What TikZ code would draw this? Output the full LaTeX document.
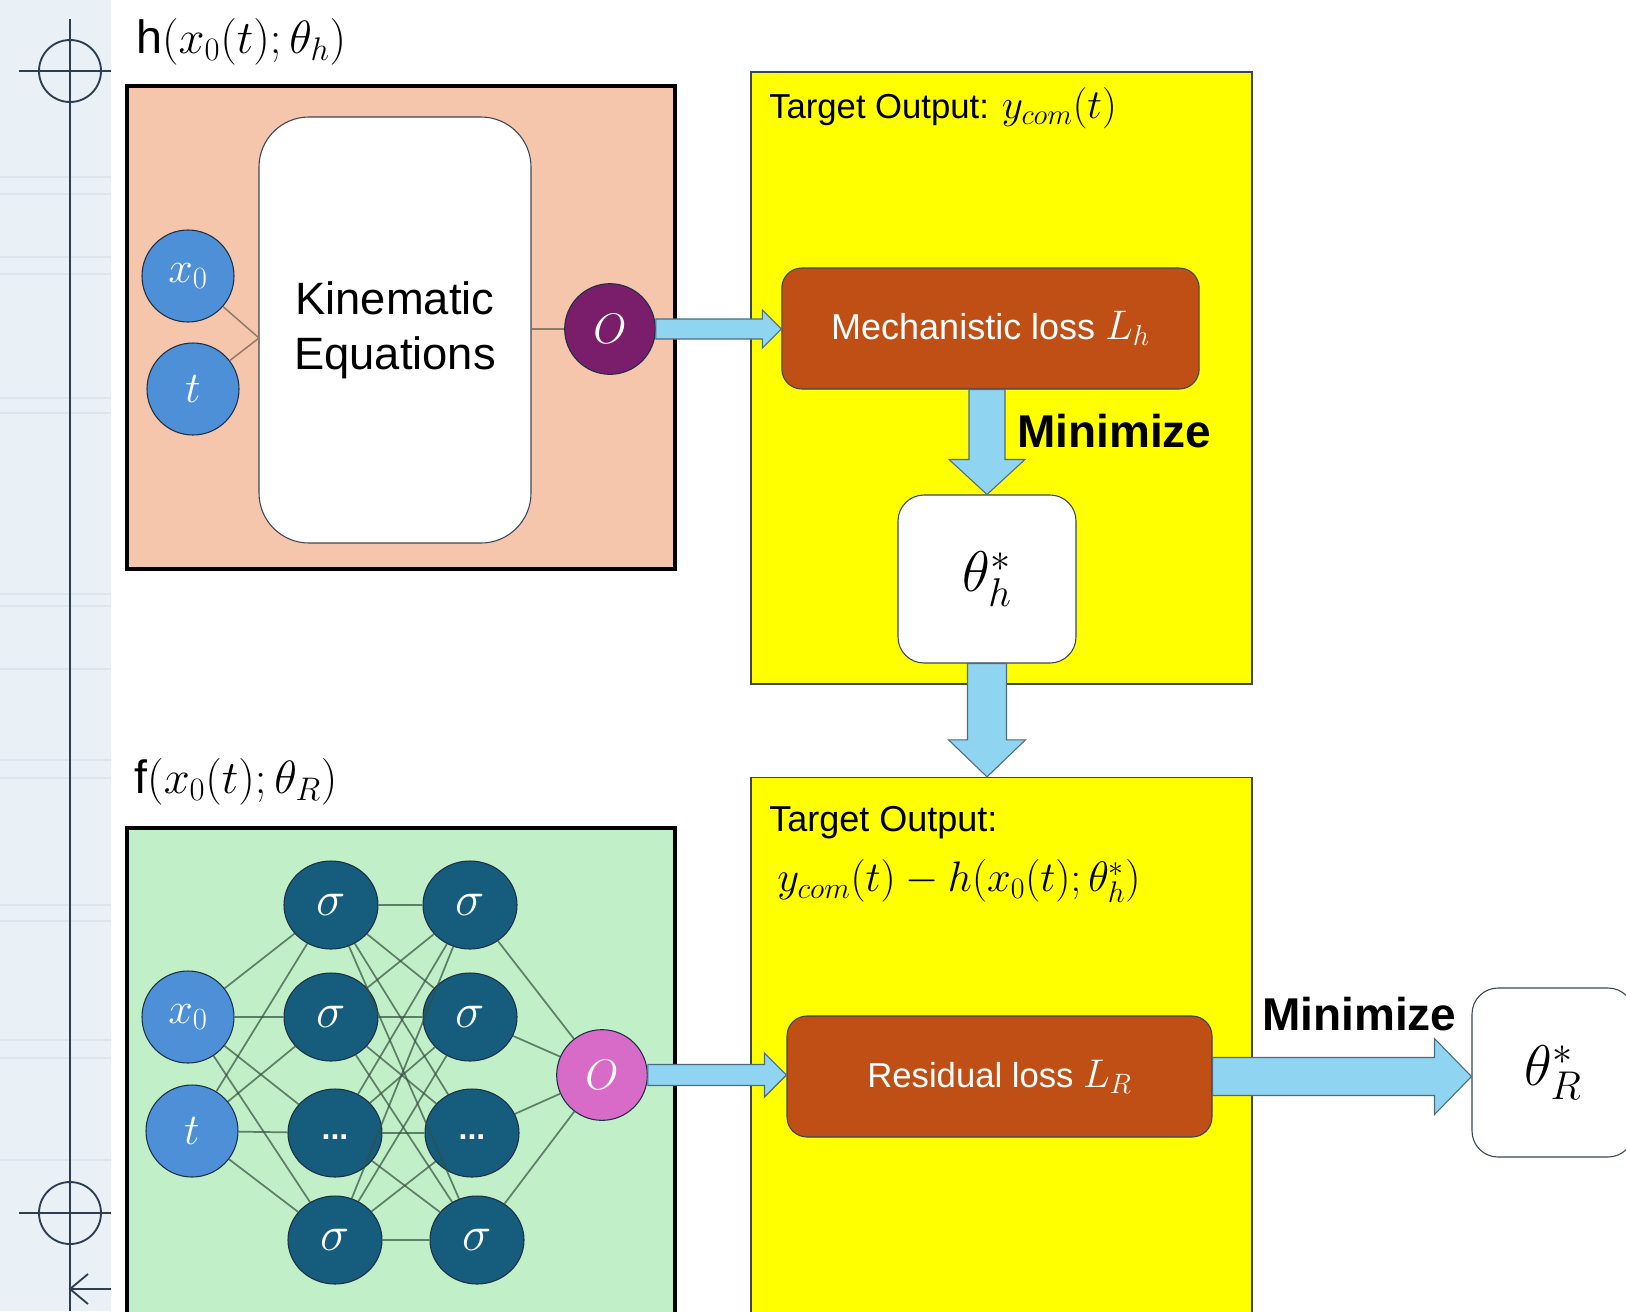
\RequirePackage{fix-cm}
\documentclass[tikz,border=0pt]{standalone}
\usepackage{fontspec}
\setmainfont{Liberation Sans}
\usetikzlibrary{calc,shapes.geometric}

\definecolor{stripbg}{HTML}{E9F0F6}
\definecolor{stripline}{HTML}{DCE5EE}
\definecolor{guide}{HTML}{2E3E52}
\definecolor{peach}{HTML}{F5C6AB}
\definecolor{mint}{HTML}{C1F0C8}
\definecolor{hilite}{HTML}{FFFF00}
\definecolor{lossfill}{HTML}{C04F15}
\definecolor{arrowfill}{HTML}{8FD4F1}
\definecolor{arrowedge}{HTML}{4D6B80}
\definecolor{inputblue}{HTML}{4E90D7}
\definecolor{hiddenblue}{HTML}{165C7D}
\definecolor{outpurple}{HTML}{7A1E6C}
\definecolor{outpink}{HTML}{D86BC8}
\definecolor{nodeedge}{HTML}{1B2F45}
\definecolor{wire}{HTML}{34503F}
\definecolor{kinwire}{HTML}{8C7A6B}
\definecolor{boxedge}{HTML}{3A4656}

\newcommand\fsz[2]{\fontsize{#1}{#2}\selectfont}
% fat block arrows: #1 start, #2 tip, #3 half shaft, #4 half head, #5 head length (px)
\newcommand\harrow[5]{%
  \draw[fatarrow] ($(#1)+(0,-#3)$) -- ($(#2)+(-#5,-#3)$) -- ($(#2)+(-#5,-#4)$) -- (#2)
    -- ($(#2)+(-#5,#4)$) -- ($(#2)+(-#5,#3)$) -- ($(#1)+(0,#3)$) -- cycle;}
\newcommand\varrow[5]{%
  \draw[fatarrow] ($(#1)+(-#3,0)$) -- ($(#2)+(-#3,-#5)$) -- ($(#2)+(-#4,-#5)$) -- (#2)
    -- ($(#2)+(#4,-#5)$) -- ($(#2)+(#3,-#5)$) -- ($(#1)+(#3,0)$) -- cycle;}

\begin{document}
\begin{tikzpicture}[x=0.75pt,y=-0.75pt,
  fatarrow/.style={fill=arrowfill,draw=arrowedge,line width=0.8pt,line join=miter},
  inputnode/.style={circle,fill=inputblue,draw=nodeedge,line width=0.8pt,inner sep=0pt,
    minimum size=69pt,text=white,font=\fsz{33}{36}},
  hiddennode/.style={ellipse,fill=hiddenblue,draw=nodeedge,line width=0.8pt,inner sep=0pt,
    minimum width=70.5pt,minimum height=66pt,text=white,font=\fsz{37}{40}},
  outnode/.style={circle,draw=nodeedge,line width=0.8pt,inner sep=0pt,
    minimum size=68pt,text=white,font=\fsz{32}{36}},
  lossbox/.style={rectangle,rounded corners=15pt,fill=lossfill,draw=boxedge,line width=0.8pt,
    minimum width=313pt,minimum height=90.75pt,text=white,font=\fsz{27}{30}},
  parambox/.style={rectangle,rounded corners=19.5pt,fill=white,draw=boxedge,line width=0.8pt,
    minimum height=126pt,font=\fsz{43}{46}},
  stagebox/.style={rectangle,fill=hilite,draw=boxedge,line width=1pt,inner sep=0pt},
  wirestyle/.style={draw=wire,draw opacity=0.7,line width=1.3pt},
  kinwirestyle/.style={draw=kinwire,line width=1.1pt},
  caption/.style={anchor=west,inner sep=0pt,font=\fsz{26}{30}},
  mintext/.style={anchor=west,inner sep=0pt,font=\fsz{34.5}{38}\bfseries},
  heading/.style={anchor=west,inner sep=0pt,font=\fsz{35}{38}}]

\useasboundingbox (0,0) rectangle (1626,1311);
\clip (0,0) rectangle (1626,1311);
\fill[white] (0,0) rectangle (1626,1311);

% ruler strip on the left edge
\fill[stripbg] (0,0) rectangle (111,1311);
\foreach \yy in {177,194,257,274,398,413,594,606,669,760,778,905,921,1040,1058,1160}
  \draw[stripline,line width=0.8pt] (0,\yy) -- (111,\yy);
\draw[guide,line width=1.6pt] (70,19) -- (70,1311);
\draw[guide,line width=1.4pt] (70,71) circle (31);
\draw[guide,line width=1.4pt] (19,71) -- (111,71);
\draw[guide,line width=1.4pt] (70,1213) circle (31);
\draw[guide,line width=1.4pt] (19,1213) -- (111,1213);
\draw[guide,line width=1.4pt] (111,1289) -- (70,1289);
\draw[guide,line width=1.4pt] (88,1274) -- (70,1289) -- (88,1304);

% ---------------- mechanistic model h ----------------
\node[heading] (htitle) at (136,42) {h$(x_0(t);\theta_h)$};
\draw[fill=peach,draw=black,line width=3pt] (126.5,86) rectangle (675,569);
\node[rectangle,rounded corners=37.5pt,fill=white,draw=boxedge,line width=0.8pt,
      minimum width=204pt,minimum height=319.5pt,align=center,
      font=\fsz{34}{41}] (kin) at (395,330) {Kinematic\\Equations};
\node[inputnode] (hx) at (188,276) {$x_0$};
\node[inputnode] (ht) at (193,389) {$t$};
\node[outnode,fill=outpurple] (ho) at (610,329) {$O$};
\coordinate (kjoin) at (259,338);
\draw[kinwirestyle] (hx) -- (kjoin);
\draw[kinwirestyle] (ht) -- (kjoin);
\draw[kinwirestyle] (kin.east |- ho.west) -- (ho.west);

% ---------------- stage 1 target ----------------
\node[stagebox,minimum width=375.75pt,minimum height=459pt] (stageA) at (1001.5,378) {};
\node[caption] (tgtA) at (769,108) {Target Output: {\fsz{31}{34}$y_{com}(t)$}};
\node[lossbox] (mech) at (990.5,328.5) {Mechanistic loss {\fsz{31}{34}$L_h$}};
\node[parambox,minimum width=133.5pt] (thh) at (987,579) {$\theta_h^*$};
\node[mintext] (minA) at (1017,431) {Minimize};

\harrow{ho.east}{mech.west |- ho.east}{10}{19}{19}
\varrow{thh.north |- mech.south}{thh.north}{18}{38}{35}

% ---------------- residual model f ----------------
\node[heading] (ftitle) at (134,782) {f$(x_0(t);\theta_R)$};
\draw[fill=mint,draw=black,line width=3pt] (126.5,827.5) rectangle (675,1330);
\node[inputnode] (fx) at (188,1017) {$x_0$};
\node[inputnode] (ft) at (192,1131) {$t$};
\node[hiddennode] (a1) at (331,905) {$\sigma$};
\node[hiddennode] (a2) at (331,1017) {$\sigma$};
\node[hiddennode] (a3) at (335,1133) {\raisebox{-10pt}{\fsz{24}{26}\bfseries...}};
\node[hiddennode] (a4) at (335,1240) {$\sigma$};
\node[hiddennode] (b1) at (470,905) {$\sigma$};
\node[hiddennode] (b2) at (470,1017) {$\sigma$};
\node[hiddennode] (b3) at (472,1133) {\raisebox{-10pt}{\fsz{24}{26}\bfseries...}};
\node[hiddennode] (b4) at (477,1240) {$\sigma$};
\node[outnode,fill=outpink] (fo) at (602,1075) {$O$};
\foreach \i in {fx,ft}
  \foreach \j in {a1,a2,a3,a4}
    \draw[wirestyle] (\i) -- (\j);
\foreach \i in {a1,a2,a3,a4}
  \foreach \j in {b1,b2,b3,b4}
    \draw[wirestyle] (\i) -- (\j);
\foreach \i in {b1,b2,b3,b4}
  \draw[wirestyle] (\i) -- (fo);

% ---------------- stage 2 target ----------------
\node[stagebox,minimum width=375.75pt,minimum height=414pt] (stageB) at (1001.5,1053.5) {};
\varrow{thh.south}{thh.south |- stageB.north}{19.5}{38.5}{37}
\node[caption,font=\fsz{27}{30}] (tgtB) at (769,823) {Target Output:};
\node[caption,font=\fsz{32}{34}] (tgtBf) at (777,881) {$y_{com}(t)-h(x_0(t);\theta_h^*)$};
\node[lossbox,minimum width=318.75pt,font=\fsz{26}{30}] (res) at (999.5,1076.5) {Residual loss {\fsz{30}{32}$L_R$}};
\node[parambox,minimum width=121.5pt,minimum height=126.75pt] (thR) at (1553,1072.5) {$\theta_R^*$};
\node[mintext] (minB) at (1262,1014) {Minimize};

\harrow{fo.east}{res.west |- fo.east}{10.5}{22}{22}
\harrow{res.east}{thR.west |- res.east}{19}{38}{37}
\end{tikzpicture}
\end{document}
